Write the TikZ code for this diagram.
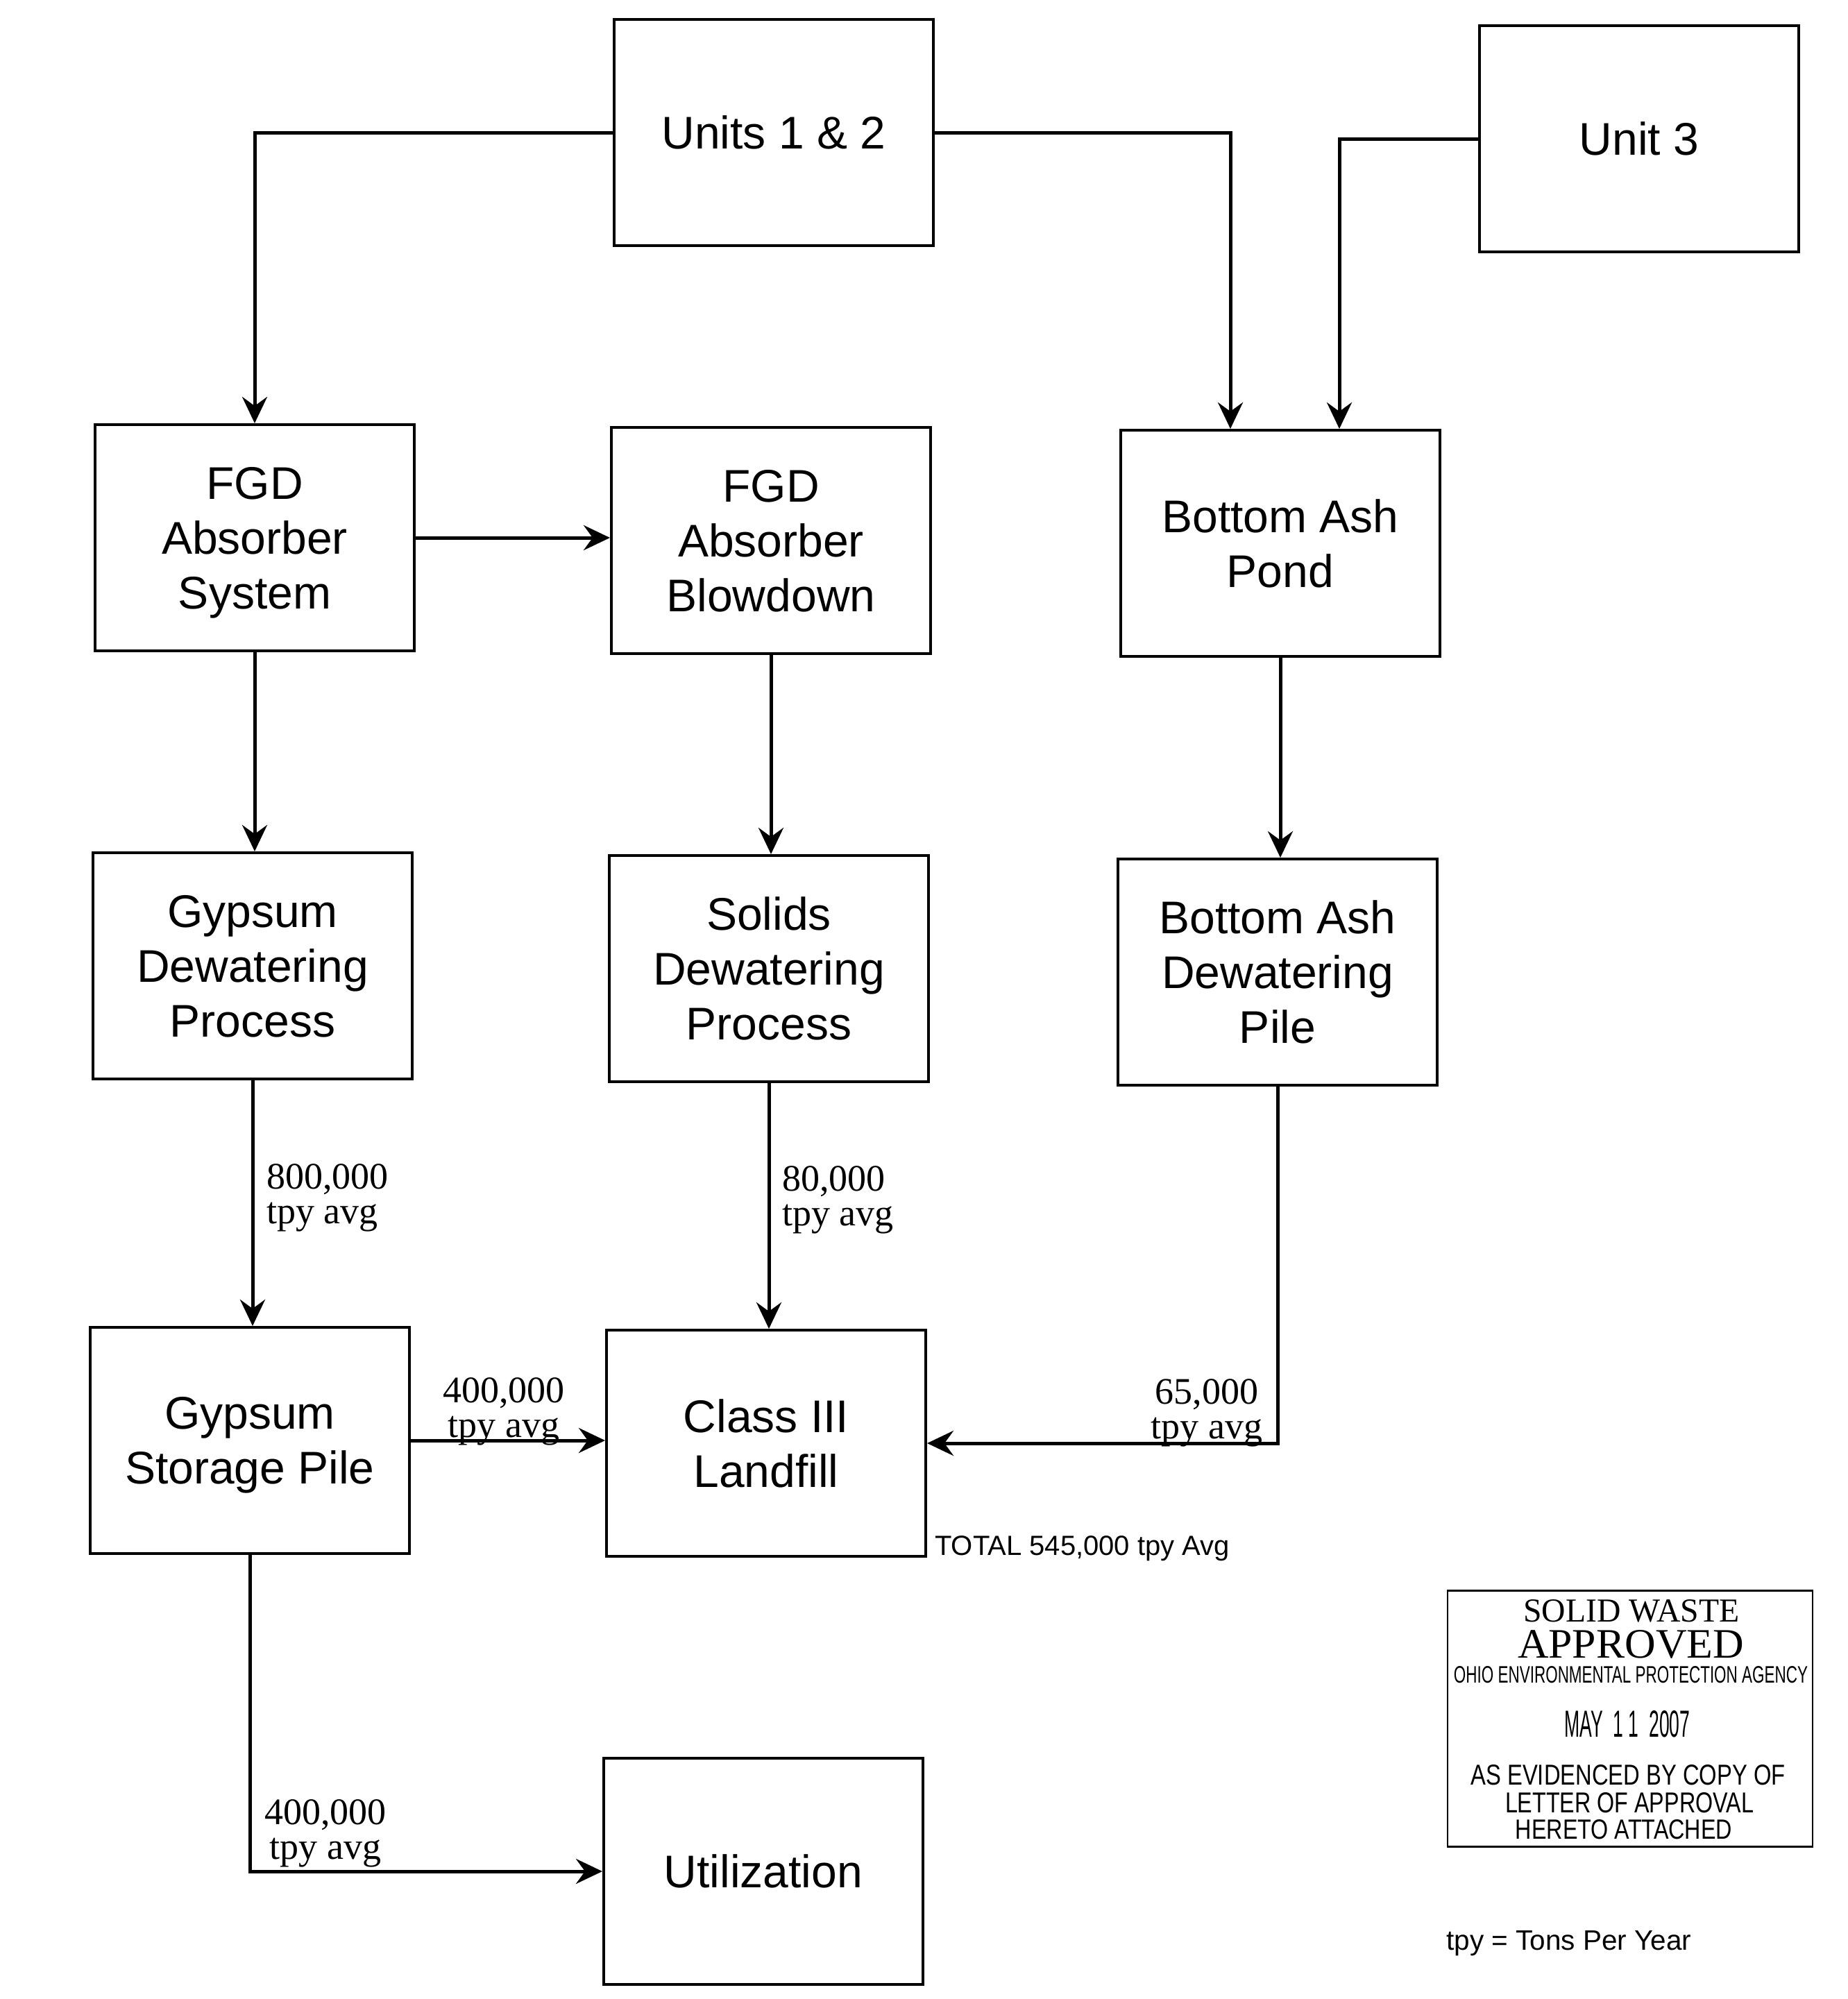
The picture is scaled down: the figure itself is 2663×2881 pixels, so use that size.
\documentclass[tikz,border=0pt]{standalone}
\usepackage{fontspec}
\usepackage{graphicx}
\setmainfont{Liberation Sans}
\newfontfamily\serifl{Liberation Serif}
\usetikzlibrary{arrows.meta}
\begin{document}
\begin{tikzpicture}[x=1pt,y=-1pt,
  box/.style={draw, line width=4pt, minimum width=460pt, minimum height=326pt, inner sep=0pt, text depth=-5pt, align=center, font=\fontsize{66}{79}\selectfont},
  arr/.style={line width=5pt, -{Stealth[length=38pt,width=36pt,inset=13pt]}},
  flow/.style={font=\serifl\fontsize{54}{50}\selectfont, inner sep=0pt},
  note/.style={anchor=base west, inner sep=0pt},
  stampline/.style={anchor=base, inner sep=0pt},
]
\useasboundingbox (0,0) rectangle (2663,2881);
\fill[white] (0,0) rectangle (2663,2881);

% boxes
\node[box] (u12)  at (1115,191)  {Units 1 \& 2};
\node[box] (u3)   at (2362,200)  {Unit 3};
\node[box] (fgds) at (367,775)   {FGD\\Absorber\\System};
\node[box] (fgdb) at (1111,779)  {FGD\\Absorber\\Blowdown};
\node[box] (bap)  at (1845,783)  {Bottom Ash\\Pond};
\node[box] (gdp)  at (364,1392)  {Gypsum\\Dewatering\\Process};
\node[box] (sdp)  at (1108,1396) {Solids\\Dewatering\\Process};
\node[box] (badp) at (1841,1401) {Bottom Ash\\Dewatering\\Pile};
\node[box] (gsp)  at (360,2076)  {Gypsum\\Storage Pile};
\node[box] (lf)   at (1104,2080) {Class III\\Landfill};
\node[box] (ut)   at (1100,2697) {Utilization};

% connectors
\draw[arr] (u12.west) -| (fgds.north);
\draw[arr] (u12.east) -| ([xshift=-72pt]bap.north);
\draw[arr] (u3.west) -| ([xshift=85pt]bap.north);
\draw[arr] (fgds.east) -- (fgds.east -| fgdb.west);
\draw[arr] (fgds.south) -- (fgds.south |- gdp.north);
\draw[arr] (fgdb.south) -- (fgdb.south |- sdp.north);
\draw[arr] (bap.south) -- (bap.south |- badp.north);
\draw[arr] (gdp.south) -- (gdp.south |- gsp.north);
\draw[arr] (sdp.south) -- (sdp.south |- lf.north);
\draw[arr] (badp.south) |- (lf.east);
\draw[arr] (gsp.east) -- (gsp.east -| lf.west);
\draw[arr] (gsp.south) |- (ut.west);

% flow labels
\node[flow, anchor=west, align=left] (l800) at (384,1726) {800,000\\tpy avg};
\node[flow, anchor=west, align=left] (l80) at (1127,1729) {80,000\\tpy avg};
\node[flow, align=center] (l400a) at (726,2034) {400,000\\tpy avg};
\node[flow, align=center] (l65) at (1739,2036) {65,000\\tpy avg};
\node[flow, align=center] (l400b) at (469,2642) {400,000\\tpy avg};

% notes
\node[note, font=\fontsize{40}{42}\selectfont] (tot) at (1347,2241) {TOTAL 545,000 tpy Avg};
\node[note, font=\fontsize{40.5}{42}\selectfont] (tpy) at (2084,2810) {tpy = Tons Per Year};

% stamp
\node[draw, line width=2.5pt, minimum width=526pt, minimum height=369pt, inner sep=0pt] (stamp) at (2349,2477) {};
\node[stampline] (sw) at (2351,2337) {\resizebox{311pt}{32pt}{\serifl SOLID WASTE}};
\node[stampline] (ap) at (2350,2389) {\resizebox{326pt}{40pt}{\serifl APPROVED}};
\node[stampline] (oh) at (2350,2425) {\resizebox{510pt}{24pt}{OHIO ENVIRONMENTAL PROTECTION AGENCY}};
\node[stampline] (may) at (2345,2503) {\resizebox{181pt}{38pt}{MAY\ \ 1 1\ \ 2007}};
\node[stampline] (ev) at (2346,2572) {\resizebox{453pt}{29pt}{AS EVIDENCED BY COPY OF}};
\node[stampline] (lt) at (2348,2612) {\resizebox{358pt}{29pt}{LETTER OF APPROVAL}};
\node[stampline] (he) at (2340,2650) {\resizebox{312pt}{28pt}{HERETO ATTACHED}};
\end{tikzpicture}
\end{document}
